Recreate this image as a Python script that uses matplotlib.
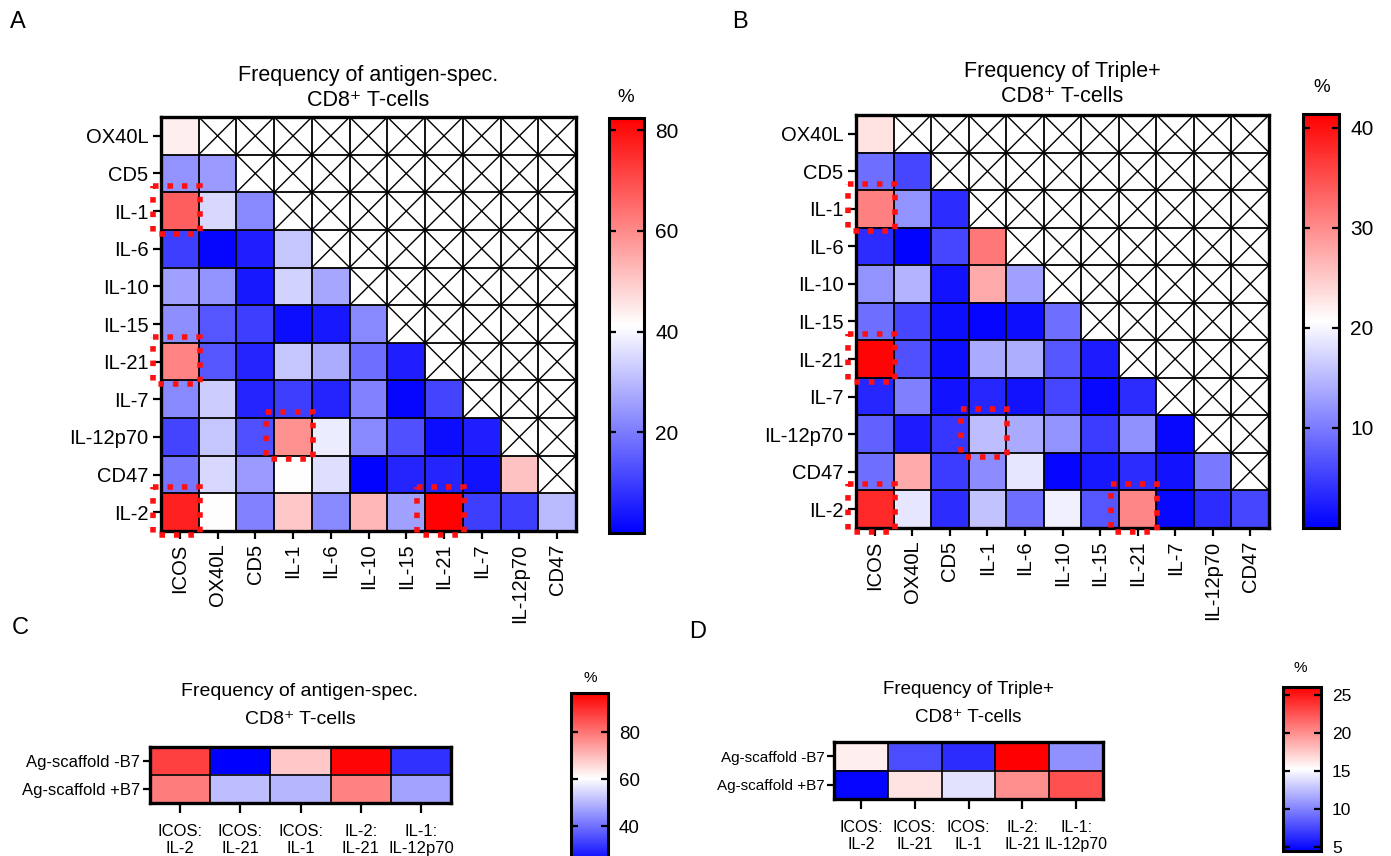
import numpy as np
import matplotlib
matplotlib.use("Agg")
import matplotlib.pyplot as plt
from matplotlib.colors import LinearSegmentedColormap
from matplotlib.patches import Rectangle

plt.rcParams['font.family'] = ['Liberation Sans', 'DejaVu Sans']

W, H = 1391, 856

# ---------------- data ----------------
x_labels = ["ICOS", "OX40L", "CD5", "IL-1", "IL-6", "IL-10", "IL-15", "IL-21", "IL-7", "IL-12p70", "CD47"]
y_labels = ["OX40L", "CD5", "IL-1", "IL-6", "IL-10", "IL-15", "IL-21", "IL-7", "IL-12p70", "CD47", "IL-2"]

# lower triangle, row i has i+1 values (antigen-spec., %)
freq_ag = [
    [44],
    [24, 25],
    [67, 35, 22],
    [10, 1, 5, 32],
    [26, 24, 4, 34, 27],
    [23, 14, 10, 2, 4, 22],
    [61, 14, 6, 32, 28, 18, 5],
    [22, 33, 6, 10, 6, 21, 1, 11],
    [11, 32, 13, 59, 38, 22, 13, 2, 5],
    [19, 35, 25, 41.5, 36, 0.5, 6, 6, 3, 51],
    [77, 41.5, 21, 50, 22, 53, 26, 82, 10, 10, 30],
]

# lower triangle (Triple+, %)
freq_tp = [
    [23],
    [9, 5.7],
    [31, 12, 3.7],
    [3.7, 0.3, 5.7, 31.6],
    [12, 14.6, 1.6, 27.5, 13],
    [9, 5.7, 1.2, 0.4, 1.2, 9],
    [41, 6.5, 1.2, 13.8, 14.2, 7, 2.4],
    [3.2, 10.5, 1.6, 3.2, 1.6, 5.7, 0.8, 3.6],
    [8, 2.4, 4.5, 15.4, 13.8, 12, 4.9, 11.8, 0.8],
    [9, 27.5, 4.9, 11.4, 18.6, 0.4, 2, 3.6, 1.6, 10],
    [38, 18.6, 3.6, 15.8, 9, 19.5, 7, 30.5, 0.8, 3.6, 5.7],
]

highlight = [("IL-1", "ICOS"), ("IL-21", "ICOS"), ("IL-12p70", "IL-1"),
             ("IL-2", "ICOS"), ("IL-2", "IL-21")]

combo_labels = ["ICOS:\nIL-2", "ICOS:\nIL-21", "ICOS:\nIL-1", "IL-2:\nIL-21", "IL-1:\nIL-12p70"]
scaffold_labels = ["Ag-scaffold -B7", "Ag-scaffold +B7"]
combo_ag = [[87.5, 24, 68, 96, 31],
            [79, 51, 50, 78, 47]]
combo_tp = [[16, 7.7, 6.4, 26, 10.6],
            [4.7, 16.5, 14, 20, 22.6]]

cmap = LinearSegmentedColormap.from_list("bwr_gp", ["#0000ff", "#ffffff", "#ff0000"])

CD8 = "CD8\u207A T-cells"


def box(l, t, r, b):
    return [l / W, 1 - b / H, (r - l) / W, (b - t) / H]


def style_cbar(cb, ticks, fs):
    cb.set_ticks(ticks)
    cb.outline.set_linewidth(2.2)
    cb.ax.tick_params(direction='in', length=5, width=1.6, left=True, right=True,
                      labelleft=False, labelright=True, labelsize=fs, pad=8)


def draw_tri(ax, cax, rows, vmin, vmax, ticks):
    n = len(y_labels)
    m = len(x_labels)
    data = np.full((n, m), np.nan)
    for i, row in enumerate(rows):
        data[i, :len(row)] = row
    im = ax.imshow(np.ma.masked_invalid(data), cmap=cmap, vmin=vmin, vmax=vmax,
                   aspect='auto', interpolation='nearest',
                   extent=(-0.5, m - 0.5, n - 0.5, -0.5))
    for k in range(1, m):
        ax.axvline(k - 0.5, color='black', lw=1.3)
    for k in range(1, n):
        ax.axhline(k - 0.5, color='black', lw=1.3)
    for r in range(n):
        for c in range(m):
            if np.isnan(data[r, c]):
                ax.plot([c - 0.5, c + 0.5], [r - 0.5, r + 0.5], color='black', lw=1.0)
                ax.plot([c - 0.5, c + 0.5], [r + 0.5, r - 0.5], color='black', lw=1.0)
    for yl, xl in highlight:
        r = y_labels.index(yl)
        c = x_labels.index(xl)
        ax.add_patch(Rectangle((c - 0.71, r - 0.66), 1.24, 1.26, fill=False,
                               edgecolor='#ff1010', lw=4, linestyle=(0, (1, 1.6)),
                               clip_on=False, zorder=5))
    ax.set_xlim(-0.5, m - 0.5)
    ax.set_ylim(n - 0.5, -0.5)
    ax.set_xticks(range(m))
    ax.set_xticklabels(x_labels, rotation=90, fontsize=14.5)
    ax.set_yticks(range(n))
    ax.set_yticklabels(y_labels, fontsize=14.5)
    ax.tick_params(direction='out', length=6, width=1.6, pad=3)
    for s in ax.spines.values():
        s.set_linewidth(2.4)
    cb = fig.colorbar(im, cax=cax)
    style_cbar(cb, ticks, 15)


def draw_small(ax, cax, vals, vmin, vmax, ticks, fs_y, fs_x, fs_cb):
    im = ax.imshow(np.array(vals), cmap=cmap, vmin=vmin, vmax=vmax, aspect='auto',
                   interpolation='nearest')
    nr, nc = np.array(vals).shape
    for k in range(1, nc):
        ax.axvline(k - 0.5, color='black', lw=1.2)
    for k in range(1, nr):
        ax.axhline(k - 0.5, color='black', lw=1.2)
    ax.set_xticks(range(nc))
    ax.set_xticklabels(combo_labels, fontsize=fs_x, linespacing=1.2)
    ax.set_yticks(range(nr))
    ax.set_yticklabels(scaffold_labels, fontsize=fs_y)
    ax.tick_params(axis='x', direction='out', length=7, width=1.6, pad=8)
    ax.tick_params(axis='y', direction='out', length=5, width=1.6, pad=2)
    for s in ax.spines.values():
        s.set_linewidth(2.4)
    cb = fig.colorbar(im, cax=cax)
    style_cbar(cb, ticks, fs_cb)


fig = plt.figure(figsize=(W / 100, H / 100), dpi=100)

# panel A
axA = fig.add_axes(box(161, 117, 576, 531))
caxA = fig.add_axes(box(609, 118, 644, 533))
draw_tri(axA, caxA, freq_ag, 0, 82.4, [20, 40, 60, 80])
fig.text(368 / W, 1 - 76 / H, "Frequency of antigen-spec.", ha='center', va='center', fontsize=15.5)
fig.text(368 / W, 1 - 100 / H, CD8, ha='center', va='center', fontsize=15.5)
fig.text(626 / W, 1 - 97 / H, "%", ha='center', va='center', fontsize=13.5)

# panel B
axB = fig.add_axes(box(856, 115, 1269, 528))
caxB = fig.add_axes(box(1303, 114, 1339, 528))
draw_tri(axB, caxB, freq_tp, 0, 41.4, [10, 20, 30, 40])
fig.text(1062 / W, 1 - 72 / H, "Frequency of Triple+", ha='center', va='center', fontsize=15.5)
fig.text(1062 / W, 1 - 97 / H, CD8, ha='center', va='center', fontsize=15.5)
fig.text(1322 / W, 1 - 88 / H, "%", ha='center', va='center', fontsize=13.5)

# panel C
axC = fig.add_axes(box(150, 747, 451, 803))
caxC = fig.add_axes(box(571, 693, 608, 863.6))
draw_small(axC, caxC, combo_ag, 24, 96.6, [40, 60, 80], 12, 12, 13.5)
fig.text(300 / W, 1 - 692 / H, "Frequency of antigen-spec.", ha='center', va='center', fontsize=14)
fig.text(300 / W, 1 - 719 / H, CD8, ha='center', va='center', fontsize=14)
fig.text(590 / W, 1 - 678 / H, "%", ha='center', va='center', fontsize=11)

# panel D
axD = fig.add_axes(box(834, 742, 1103, 799))
caxD = fig.add_axes(box(1283, 687, 1321, 851))
draw_small(axD, caxD, combo_tp, 4.5, 26, [5, 10, 15, 20, 25], 11, 11.5, 12.5)
fig.text(968 / W, 1 - 690 / H, "Frequency of Triple+", ha='center', va='center', fontsize=13.5)
fig.text(968 / W, 1 - 718 / H, CD8, ha='center', va='center', fontsize=13.5)
fig.text(1300 / W, 1 - 668 / H, "%", ha='center', va='center', fontsize=11)

# panel letters
for letter, px, py in [("A", 18, 22), ("B", 740, 22), ("C", 20, 628), ("D", 698, 632)]:
    fig.text(px / W, 1 - py / H, letter, ha='center', va='center', fontsize=17)

fig.savefig("out.png", dpi=100)
